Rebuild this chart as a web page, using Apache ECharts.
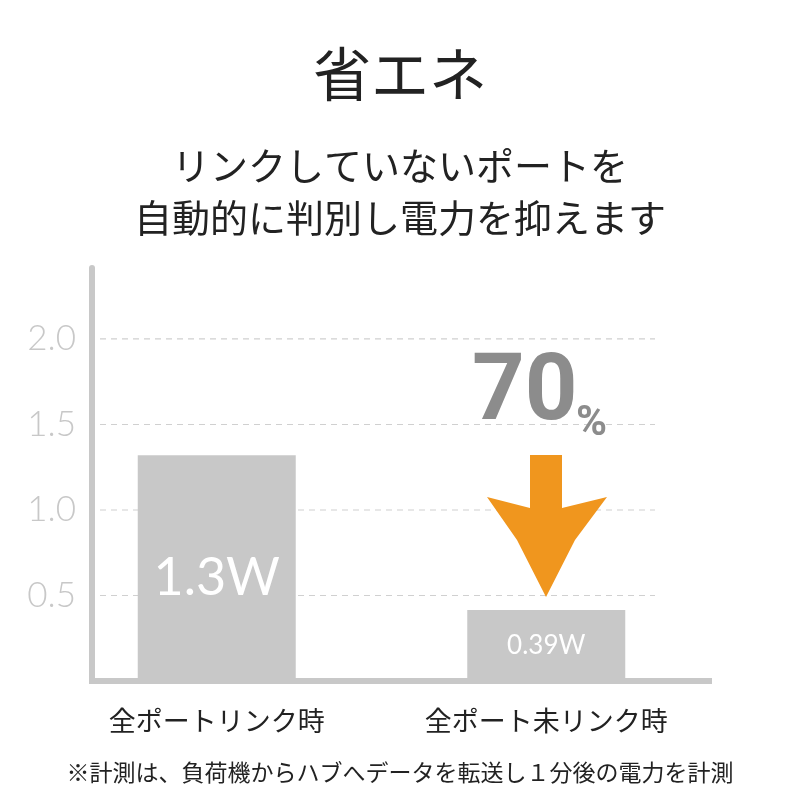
<!DOCTYPE html><html><head><meta charset="utf-8">
<script src="https://cdn.jsdelivr.net/npm/echarts@6/dist/echarts.min.js"></script>
<style>html,body{margin:0;background:#fff}#c{width:800px;height:800px}</style></head><body><div id="c"></div>
<script>
const categories=['全ポートリンク時','全ポート未リンク時'];
const values=[1.32,0.415];
const barLabels=['1.3W','0.39W'];
const yTicks=[0.5,1.0,1.5,2.0];
const F='"Noto Sans CJK JP",sans-serif';
const chart=echarts.init(document.getElementById('c'));
chart.setOption({
 backgroundColor:'#fff',
 title:[
  {text:'省エネ',left:'center',top:40,textStyle:{fontFamily:F,fontSize:58,fontWeight:'normal',color:'#222'}},
  {text:'リンクしていないポートを\n自動的に判別し電力を抑えます',left:'center',top:135,textStyle:{fontFamily:F,fontSize:38,fontWeight:'normal',color:'#222',lineHeight:52}},
  {text:'※計測は、負荷機からハブへデータを転送し１分後の電力を計測',left:'center',top:756,textStyle:{fontFamily:F,fontSize:23,fontWeight:'normal',color:'#222'}}
 ],
 grid:{left:52,right:89,top:268,bottom:119},
 xAxis:{type:'category',data:categories,axisLine:{show:false},axisTick:{show:false},
  axisLabel:{fontFamily:F,fontSize:27,color:'#222',margin:26}},
 yAxis:{type:'value',min:0,max:2.415,interval:0.5,offset:-40,
  axisLine:{show:true,lineStyle:{color:'#c8c8c8',width:6}},axisTick:{show:false},splitLine:{show:false},
  axisLabel:{fontFamily:'Lato,sans-serif',fontWeight:300,fontSize:35,color:'#c8c8c8',margin:16,
   formatter:v=>yTicks.includes(v)?v.toFixed(1):''}},
 series:[{type:'bar',barWidth:158,itemStyle:{color:'#c8c8c8'},z:3,
  label:{show:true,position:'inside',color:'#fff',fontFamily:'Lato,sans-serif',formatter:p=>barLabels[p.dataIndex]},
  data:[{value:values[0],label:{fontSize:52,offset:[0,10]}},{value:values[1],label:{fontSize:26}}]}]
});
const g=[];
yTicks.forEach(t=>{const y=chart.convertToPixel({yAxisIndex:0},t);
 g.push({type:'line',shape:{x1:100,y1:y,x2:655,y2:y},style:{stroke:'#d0d0d0',lineWidth:1.2,lineDash:[6,5]},z:1});});
const y0=chart.convertToPixel({yAxisIndex:0},0);
g.push({type:'line',shape:{x1:89,y1:y0,x2:712,y2:y0},style:{stroke:'#c8c8c8',lineWidth:6},z:5});
g.push({type:'polygon',shape:{points:[[530,455],[562,455],[562,508],[607,497],[575,540],[546,597],[517,540],[487,497],[530,508]]},style:{fill:'#f0961e'},z:6});
g.push({type:'text',left:472,top:350,style:{text:'70',font:'bold 92px Roboto,sans-serif',fill:'#8c8c8c'},z:6});
g.push({type:'text',left:576,top:403,style:{text:'%',font:'bold 42px Roboto,sans-serif',fill:'#8c8c8c'},z:6});
chart.setOption({graphic:g});
</script></body></html>
